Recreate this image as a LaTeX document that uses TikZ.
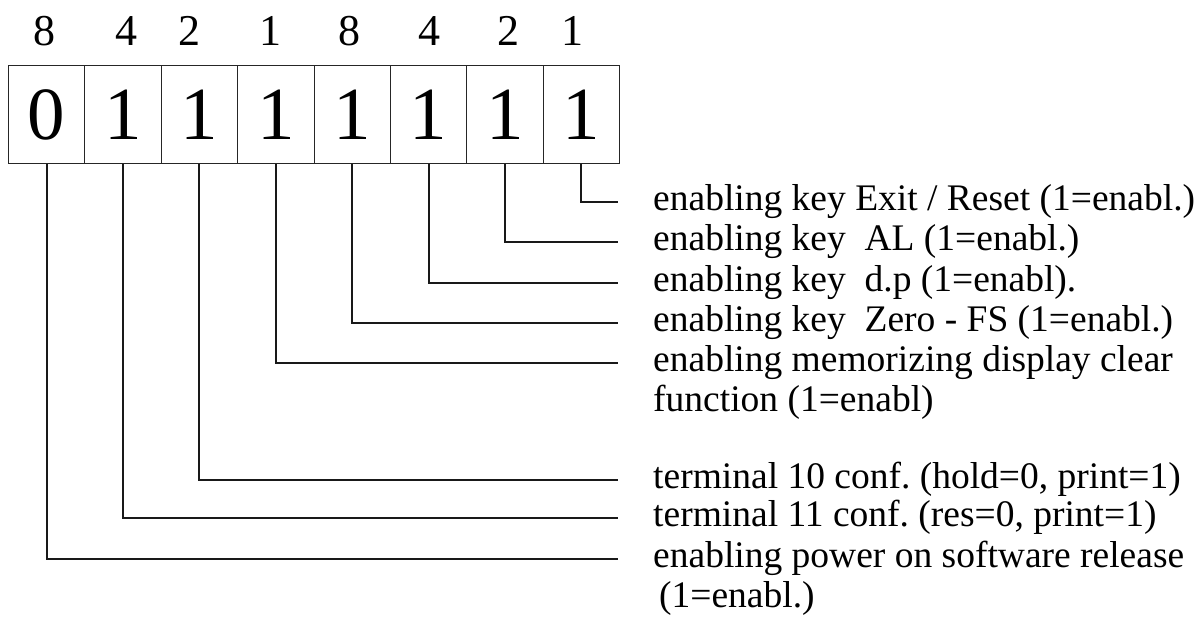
\documentclass[tikz,border=0pt]{standalone}
\usepackage{fontspec}
\setmainfont{Liberation Serif}
\frenchspacing
\begin{document}
\begin{tikzpicture}[x=1pt,y=-1pt,
  cell/.style={draw=black!85,line width=1pt,minimum width=76.375pt,minimum height=98pt,inner sep=0pt,anchor=north west,font=\fontsize{75}{75}\selectfont},
  weight/.style={font=\fontsize{44}{44}\selectfont,anchor=base,inner sep=0pt},
  lbl/.style={font=\fontsize{37.5}{40}\selectfont,anchor=base west,inner sep=0pt,align=left},
  conn/.style={line width=2pt,black!90}]
\useasboundingbox (0,0) rectangle (1197,621);
% weights
\node[weight] (w1) at (45,45) {8};
\node[weight] (w2) at (126,45) {4};
\node[weight] (w3) at (189,45) {2};
\node[weight] (w4) at (270,45) {1};
\node[weight] (w5) at (349,45) {8};
\node[weight] (w6) at (429,45) {4};
\node[weight] (w7) at (508,45) {2};
\node[weight] (w8) at (572,45) {1};
% cells
\node[cell] (c1) at (8,65) {0};
\node[cell] (c2) at (84.375,65) {1};
\node[cell] (c3) at (160.75,65) {1};
\node[cell] (c4) at (237.125,65) {1};
\node[cell] (c5) at (313.5,65) {1};
\node[cell] (c6) at (389.875,65) {1};
\node[cell] (c7) at (466.25,65) {1};
\node[cell] (c8) at (542.625,65) {1};
% line ends
\coordinate (e1) at (618,202);
\coordinate (e2) at (618,242);
\coordinate (e3) at (618,283);
\coordinate (e4) at (618,323);
\coordinate (e5) at (618,363);
\coordinate (e6) at (618,480);
\coordinate (e7) at (618,518);
\coordinate (e8) at (618,559);
% labels (base of multi-line nodes is the last line)
\node[lbl] (l1) at (653,210) {enabling key Exit / Reset (1=enabl.)};
\node[lbl] (l2) at (653,250) {enabling key\ \ AL (1=enabl.)};
\node[lbl] (l3) at (653,291) {enabling key\ \ d.p (1=enabl).};
\node[lbl] (l4) at (653,331) {enabling key\ \ Zero - FS (1=enabl.)};
\node[lbl] (l5) at (653,411) {enabling memorizing display clear\\function (1=enabl)};
\node[lbl] (l6) at (653,488) {terminal 10 conf. (hold=0, print=1)};
\node[lbl] (l7) at (653,526) {terminal 11 conf. (res=0, print=1)};
\node[lbl] (l8) at (653,607) {enabling power on software release\\\hspace{6pt}(1=enabl.)};
% connectors
\draw[conn] (c8.south) |- (e1);
\draw[conn] (c7.south) |- (e2);
\draw[conn] (c6.south) |- (e3);
\draw[conn] (c5.south) |- (e4);
\draw[conn] (c4.south) |- (e5);
\draw[conn] (c3.south) |- (e6);
\draw[conn] (c2.south) |- (e7);
\draw[conn] (c1.south) |- (e8);
\end{tikzpicture}
\end{document}
